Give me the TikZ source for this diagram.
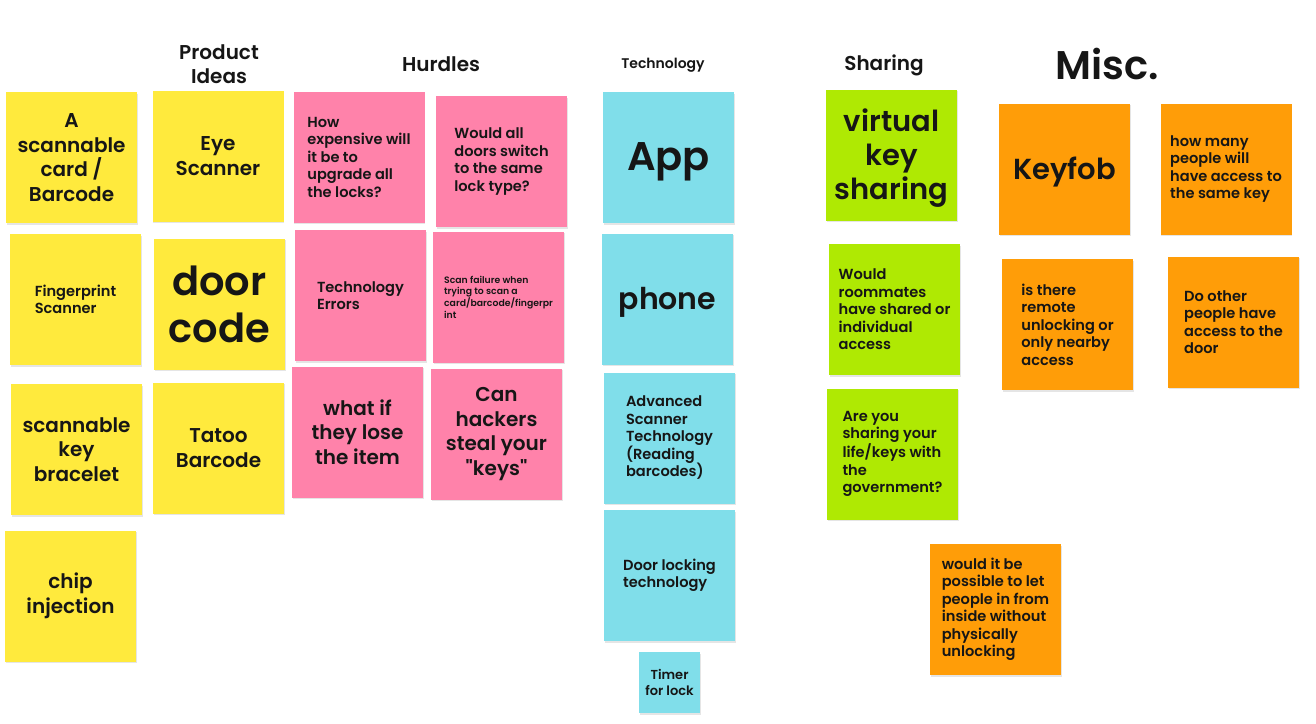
\documentclass[tikz,border=0pt]{standalone}
\usepackage{fontspec}
\setmainfont{Poppins SemiBold}[Ligatures=TeXOff]
\usetikzlibrary{shadows}
\definecolor{sy}{HTML}{FFEA3D}
\definecolor{sp}{HTML}{FF82AA}
\definecolor{sc}{HTML}{80DEEA}
\definecolor{sg}{HTML}{AFE903}
\definecolor{so}{HTML}{FF9D08}
\definecolor{ink}{HTML}{161616}
\tikzset{
  note/.style={minimum width=131pt, minimum height=131pt, inner sep=0pt, text=ink,
    drop shadow={shadow xshift=0.5pt, shadow yshift=-1.8pt, opacity=0.2}},
  yel/.style={note, fill=sy},
  pnk/.style={note, fill=sp},
  cya/.style={note, fill=sc},
  grn/.style={note, fill=sg},
  org/.style={note, fill=so},
  sm/.style={align=left, font=\fontsize{14.6}{17.5}\selectfont},
  md/.style={align=center, font=\fontsize{20}{24.5}\selectfont},
  lg/.style={align=center, font=\fontsize{29}{34}\selectfont},
  xl/.style={align=center, font=\fontsize{40}{47}\selectfont},
  ttl/.style={text=ink, align=center, inner sep=0pt},
}
\begin{document}
\begin{tikzpicture}[x=1pt,y=-1pt]
\fill[white] (0,0) rectangle (1316,723);
\useasboundingbox (0,0) rectangle (1316,723);

% titles
\node[ttl, font=\fontsize{20}{24}\selectfont] (tprod) at (219,64) {Product\\Ideas};
\node[ttl, font=\fontsize{20}{24}\selectfont] (thur) at (441,64) {Hurdles};
\node[ttl, font=\fontsize{14}{17}\selectfont] (ttech) at (663,65.5) {Technology};
\node[ttl, font=\fontsize{20}{24}\selectfont] (tshare) at (884,65.5) {Sharing};
\node[ttl, font=\fontsize{40}{46}\selectfont] (tmisc) at (1107,64) {Misc.};

% column 1
\node[yel, md] (card) at (71.5,157.5) {A\\scannable\\card /\\Barcode};
\node[yel, sm] (finger) at (75.5,299.5) {Fingerprint\\Scanner};
\node[yel, md] (bracelet) at (76.5,449.5) {scannable\\key\\bracelet};
\node[yel, md] (chip) at (70.5,596) {chip\\injection};

% column 2
\node[yel, md] (eye) at (218,156) {Eye\\Scanner};
\node[yel, xl] (door) at (219.5,304) {door\\code};
\node[yel, md] (tatoo) at (218.5,448) {Tatoo\\Barcode};

% hurdles
\node[pnk, sm] (howexp) at (359,157) {How\\expensive will\\it be to\\upgrade all\\the locks?};
\node[pnk, sm] (techerr) at (360.5,295.5) {Technology\\Errors};
\node[pnk, md] (whatif) at (357.5,432) {what if\\they lose\\the item};
\node[pnk, sm] (wouldall) at (501.5,161.5) {Would all\\doors switch\\to the same\\lock type?};
\node[pnk, align=left, font=\fontsize{9.3}{11.7}\selectfont] (scanfail) at (498.5,297) {Scan failure when\\trying to scan a\\card/barcode/fingerpr\\int};
\node[pnk, md] (hackers) at (496.5,434) {Can\\hackers\\steal your\\"keys"};

% technology
\node[cya] (app) at (668.5,157.5) {};
\node[ttl, font=\fontsize{40}{47}\selectfont] (applbl) at (668.5,162) {App};
\node[cya] (phone) at (667.5,299) {};
\node[ttl, font=\fontsize{30}{34}\selectfont] (phonelbl) at (667.5,302) {phone};
\node[cya, sm] (adv) at (669.5,438) {Advanced\\Scanner\\Technology\\(Reading\\barcodes)};
\node[cya, sm] (doorlock) at (669.5,575.5) {Door locking\\technology};
\node[cya, minimum width=61pt, minimum height=61pt, align=center, font=\fontsize{13}{16}\selectfont] (timer) at (669.5,682.5) {Timer\\for lock};

% sharing
\node[grn] (virtual) at (891.5,155) {};
\node[ttl, font=\fontsize{29}{34}\selectfont] (virtuallbl) at (891.5,158) {virtual\\key\\sharing};
\node[grn, sm] (roommates) at (894.5,309.5) {Would\\roommates\\have shared or\\individual\\access};
\node[grn, sm] (gov) at (892.5,454) {Are you\\sharing your\\life/keys with\\the\\government?};

% misc
\node[org] (keyfob) at (1064.5,169) {};
\node[ttl, font=\fontsize{29}{34}\selectfont] (keyfoblbl) at (1064.5,172) {Keyfob};
\node[org, sm] (howmany) at (1226,169) {how many\\people will\\have access to\\the same key};
\node[org, sm] (remote) at (1067.5,324.5) {is there\\remote\\unlocking or\\only nearby\\access};
\node[org, sm] (doother) at (1233.5,322) {Do other\\people have\\access to the\\door};
\node[org, sm] (wouldit) at (995.5,609.5) {would it be\\possible to let\\people in from\\inside without\\physically\\unlocking};
\end{tikzpicture}
\end{document}
